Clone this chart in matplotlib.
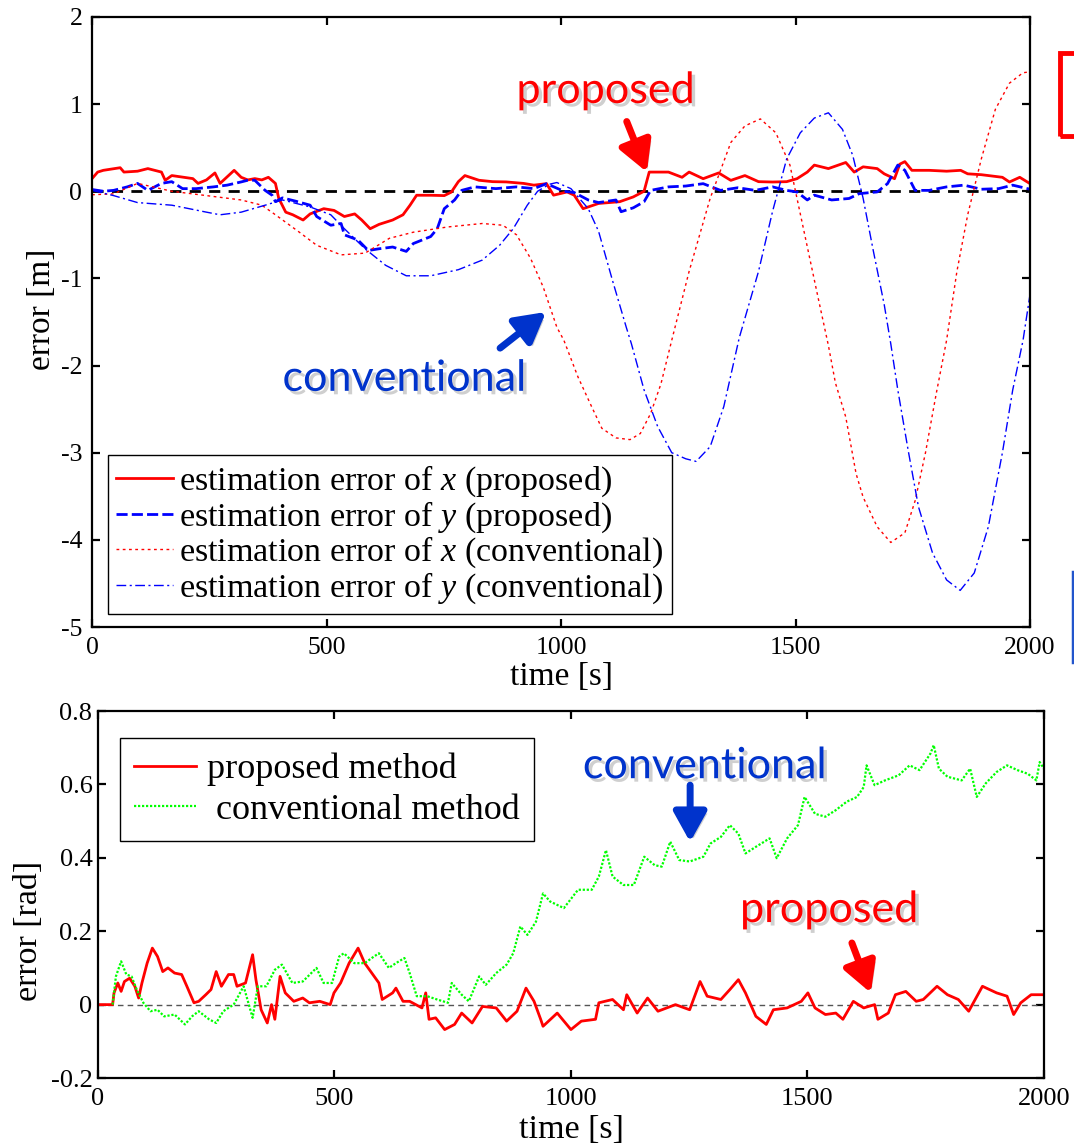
import numpy as np
import matplotlib
matplotlib.use('Agg')
import matplotlib.pyplot as plt
import matplotlib.patheffects as pe
from matplotlib.lines import Line2D
from matplotlib.patches import Rectangle

plt.rcParams['font.family'] = 'Liberation Serif'
plt.rcParams['mathtext.fontset'] = 'custom'
plt.rcParams['mathtext.rm'] = 'Liberation Serif'
plt.rcParams['mathtext.it'] = 'Liberation Serif:italic'
plt.rcParams['axes.unicode_minus'] = False

# position error, top panel: [time, error]
prop_x = np.array([
    [0, 0.145], [12, 0.22], [24, 0.24], [60, 0.27], [68, 0.22], [97, 0.23], [119, 0.26],
    [148, 0.22], [156, 0.126], [170, 0.18], [215, 0.145], [226, 0.09], [244, 0.13],
    [262, 0.21], [273, 0.09], [303, 0.24], [318, 0.16], [332, 0.13], [347, 0.145],
    [362, 0.13], [376, 0.16], [391, 0.09], [398, -0.08], [413, -0.24], [428, -0.27],
    [450, -0.33], [465, -0.26], [494, -0.20], [516, -0.22], [538, -0.29], [560, -0.26],
    [575, -0.33], [593, -0.43], [612, -0.38], [641, -0.33], [663, -0.27], [678, -0.16],
    [692, -0.046], [722, -0.046], [751, -0.05], [766, -0.01], [781, 0.11], [795, 0.18],
    [825, 0.126], [854, 0.11], [883, 0.107], [920, 0.09], [942, 0.07], [969, 0.087],
    [984, -0.045], [1013, -0.008], [1028, -0.045], [1047, -0.2], [1080, -0.14],
    [1125, -0.12], [1154, -0.065], [1177, 0.0], [1188, 0.22], [1229, 0.22], [1258, 0.16],
    [1273, 0.22], [1303, 0.144], [1336, 0.21], [1362, 0.125], [1392, 0.18], [1421, 0.11],
    [1451, 0.106], [1481, 0.11], [1503, 0.144], [1525, 0.22], [1540, 0.3], [1570, 0.26],
    [1607, 0.33], [1625, 0.22], [1644, 0.28], [1674, 0.26], [1689, 0.2], [1711, 0.144],
    [1722, 0.31], [1733, 0.34], [1748, 0.24], [1785, 0.24], [1822, 0.23], [1852, 0.24],
    [1867, 0.2], [1896, 0.19], [1941, 0.16], [1956, 0.106], [1978, 0.16], [2000, 0.087]])

prop_y = np.array([
    [0, 0.02], [24, 0.0], [46, 0.01], [75, 0.05], [97, 0.09], [119, 0.01], [148, 0.09],
    [170, 0.11], [193, 0.03], [222, 0.03], [259, 0.05], [288, 0.07], [318, 0.107],
    [332, 0.126], [347, 0.126], [369, 0.01], [384, -0.046], [391, -0.12], [406, -0.076],
    [435, -0.115], [465, -0.16], [479, -0.29], [509, -0.39], [531, -0.37], [538, -0.50],
    [567, -0.56], [589, -0.68], [612, -0.66], [641, -0.64], [670, -0.69], [685, -0.6],
    [722, -0.52], [736, -0.43], [751, -0.2], [773, -0.1], [788, 0.01], [816, 0.05],
    [861, 0.03], [905, 0.05], [942, 0.03], [969, 0.087], [1006, 0.0], [1028, -0.015],
    [1058, -0.1], [1080, -0.13], [1117, -0.1], [1128, -0.235], [1154, -0.19],
    [1177, -0.12], [1191, 0.01], [1229, 0.05], [1266, 0.06], [1303, 0.087], [1340, 0.01],
    [1377, 0.04], [1414, 0.01], [1451, 0.05], [1481, 0.01], [1503, -0.008], [1525, -0.1],
    [1540, -0.045], [1577, -0.1], [1614, -0.083], [1636, -0.027], [1674, -0.008],
    [1696, 0.087], [1718, 0.3], [1733, 0.24], [1755, 0.01], [1785, 0.01], [1822, 0.05],
    [1859, 0.07], [1896, 0.023], [1933, 0.03], [1963, 0.07], [2000, 0.023]])

conv_x = np.array([
    [0, -0.04], [46, -0.03], [97, 0.09], [170, 0.0], [244, -0.05], [318, -0.1],
    [362, -0.16], [391, -0.27], [442, -0.47], [479, -0.62], [531, -0.73], [582, -0.71],
    [634, -0.54], [685, -0.47], [758, -0.41], [832, -0.37], [876, -0.39], [905, -0.5],
    [935, -0.77], [962, -1.1], [991, -1.56], [1006, -1.71], [1036, -2.13], [1065, -2.47],
    [1087, -2.72], [1117, -2.83], [1147, -2.85], [1169, -2.78], [1191, -2.55],
    [1213, -2.21], [1236, -1.71], [1273, -0.92], [1318, -0.08], [1362, 0.56], [1392, 0.75],
    [1425, 0.83], [1458, 0.67], [1488, 0.3], [1518, -0.46], [1548, -1.22], [1570, -1.77],
    [1585, -2.2], [1607, -2.59], [1629, -3.24], [1644, -3.51], [1674, -3.85],
    [1703, -4.03], [1733, -3.92], [1755, -3.55], [1777, -3.0], [1800, -2.32],
    [1822, -1.71], [1844, -0.92], [1867, -0.27], [1896, 0.37], [1926, 0.94], [1956, 1.24],
    [1985, 1.36], [2000, 1.37]])

conv_y = np.array([
    [0, 0.01], [46, -0.05], [97, -0.13], [170, -0.16], [244, -0.24], [273, -0.27],
    [318, -0.24], [369, -0.16], [406, -0.1], [465, -0.18], [509, -0.27], [538, -0.43],
    [582, -0.66], [626, -0.85], [670, -0.97], [722, -0.97], [781, -0.9], [832, -0.79],
    [869, -0.62], [898, -0.43], [928, -0.16], [950, 0.0], [975, 0.08], [991, 0.1],
    [1021, 0.03], [1058, -0.2], [1080, -0.46], [1110, -1.03], [1139, -1.56],
    [1150, -1.75], [1177, -2.28], [1206, -2.7], [1236, -3.0], [1266, -3.07], [1288, -3.1],
    [1318, -2.93], [1347, -2.47], [1380, -1.68], [1421, -0.92],
    [1451, -0.23], [1481, 0.37], [1510, 0.67], [1540, 0.84], [1570, 0.9], [1600, 0.71],
    [1622, 0.41], [1644, -0.08], [1666, -0.69], [1689, -1.3], [1703, -1.75],
    [1718, -2.28], [1740, -2.97], [1762, -3.62], [1792, -4.15], [1822, -4.46],
    [1851, -4.58], [1881, -4.38], [1911, -3.85], [1941, -3.0], [1963, -2.28],
    [1985, -1.71], [2000, -1.18]])

# heading error, bottom panel: [time, error]
head_prop = np.array([
    [0, 0.0], [31, 0.0], [34, 0.032], [42, 0.059], [49, 0.036], [56, 0.063], [67, 0.072],
    [78, 0.05], [86, 0.018], [93, 0.059], [104, 0.113], [115, 0.154], [126, 0.131],
    [137, 0.09], [148, 0.1], [162, 0.086], [177, 0.082], [188, 0.05], [203, 0.005],
    [213, 0.009], [228, 0.027], [239, 0.041], [250, 0.09], [261, 0.05], [276, 0.082],
    [287, 0.082], [294, 0.05], [312, 0.059], [327, 0.136], [334, 0.068], [345, -0.014],
    [358, -0.05], [367, 0.0], [374, -0.04], [385, 0.077], [396, 0.032], [414, 0.009],
    [433, 0.018], [447, 0.005], [469, 0.009], [491, 0.0], [499, 0.032], [513, 0.059],
    [531, 0.113], [550, 0.154], [564, 0.113], [579, 0.086], [594, 0.059], [601, 0.014],
    [623, 0.032], [630, 0.045], [645, 0.009], [659, 0.009], [685, -0.009], [693, 0.032],
    [700, -0.04], [714, -0.036], [733, -0.068], [754, -0.054], [769, -0.023],
    [791, -0.05], [813, -0.005], [842, -0.009], [864, -0.045], [886, -0.018],
    [905, 0.045], [922, 0.009], [936, -0.04], [941, -0.059], [971, -0.023],
    [1000, -0.068], [1022, -0.045], [1052, -0.04], [1059, 0.005], [1088, 0.014],
    [1111, -0.014], [1118, 0.027], [1140, -0.023], [1162, 0.018], [1184, -0.018],
    [1221, 0.0], [1251, -0.014], [1273, 0.063], [1288, 0.023], [1317, 0.014],
    [1336, 0.041], [1354, 0.068], [1369, 0.032], [1391, -0.032], [1413, -0.054],
    [1428, -0.014], [1457, -0.009], [1487, 0.009], [1501, 0.032], [1516, -0.009],
    [1538, -0.027], [1560, -0.023], [1575, -0.04], [1597, 0.009], [1619, -0.009],
    [1642, 0.0], [1649, -0.04], [1671, -0.023], [1686, 0.027], [1708, 0.036],
    [1730, 0.009], [1745, 0.014], [1774, 0.05], [1796, 0.027], [1819, 0.014],
    [1841, -0.018], [1870, 0.05], [1900, 0.032], [1922, 0.023], [1936, -0.027],
    [1951, 0.005], [1973, 0.027], [2000, 0.027]])

head_conv = np.array([
    [31, 0.0], [38, 0.077], [49, 0.118], [60, 0.082], [71, 0.077], [82, 0.041],
    [96, 0.005], [111, -0.018], [126, -0.014], [140, -0.032], [162, -0.027],
    [184, -0.054], [199, -0.032], [213, -0.018], [235, -0.04], [250, -0.05],
    [265, -0.018], [287, 0.0], [308, 0.05], [327, -0.036], [338, 0.05], [356, 0.05],
    [374, 0.095], [389, 0.109], [411, 0.059], [433, 0.063], [462, 0.1], [477, 0.059],
    [495, 0.059], [510, 0.131], [520, 0.14], [542, 0.113], [564, 0.113], [579, 0.127],
    [594, 0.14], [615, 0.1], [630, 0.113], [648, 0.127], [659, 0.086], [674, 0.023],
    [696, 0.023], [717, 0.014], [740, 0.005], [748, 0.059], [769, 0.027], [784, 0.009],
    [806, 0.077], [820, 0.054], [842, 0.086], [864, 0.109], [878, 0.14], [893, 0.213],
    [908, 0.19], [926, 0.226], [941, 0.303], [956, 0.281], [985, 0.263], [1015, 0.313],
    [1044, 0.313], [1059, 0.349], [1074, 0.421], [1088, 0.349], [1111, 0.326],
    [1133, 0.326], [1155, 0.403], [1177, 0.38], [1192, 0.376], [1210, 0.444],
    [1229, 0.394], [1251, 0.39], [1280, 0.403], [1295, 0.439], [1317, 0.457],
    [1336, 0.489], [1354, 0.466], [1369, 0.412], [1391, 0.43], [1420, 0.453],
    [1435, 0.399], [1457, 0.453], [1480, 0.489], [1494, 0.566], [1516, 0.52],
    [1538, 0.512], [1560, 0.53], [1583, 0.553], [1605, 0.566], [1619, 0.593],
    [1625, 0.652], [1642, 0.598], [1664, 0.611], [1693, 0.625], [1716, 0.652],
    [1737, 0.639], [1760, 0.684], [1767, 0.707], [1778, 0.643], [1796, 0.621],
    [1826, 0.611], [1844, 0.643], [1858, 0.566], [1877, 0.603], [1900, 0.634],
    [1922, 0.652], [1944, 0.639], [1966, 0.629], [1984, 0.611], [1991, 0.661],
    [2000, 0.643]])

xticks = [0, 500, 1000, 1500, 2000]
yticks_top = [-5, -4, -3, -2, -1, 0, 1, 2]
yticks_bot = [-0.2, 0, 0.2, 0.4, 0.6, 0.8]
ytick_labels_bot = ['-0.2', '0', '0.2', '0.4', '0.6', '0.8']

RED = '#ff0000'
BLUE = '#0000ff'
ANN_BLUE = '#0033cc'
shadow = [pe.SimplePatchShadow(offset=(2.5, -2.5), shadow_rgbFace='#777777', alpha=0.35),
          pe.Normal()]
ann_font = dict(family='Lato', fontsize=31)
arrow_kw = dict(arrowstyle='-|>,head_length=0.9,head_width=0.5', lw=5,
                mutation_scale=20, shrinkA=0, shrinkB=0)


def style_axes(ax, ticksize, pad):
    for s in ax.spines.values():
        s.set_linewidth(1.6)
    ax.tick_params(direction='in', top=True, right=True, length=6, width=1.6,
                   labelsize=ticksize, pad=pad)


fig = plt.figure(figsize=(10.74, 11.45), dpi=100)

# top panel
ax1 = fig.add_axes([0.0857, 0.4524, 0.8734, 0.5328])
ax1.plot([0, 2000], [0, 0], color='k', lw=2, ls=(0, (4, 3)))
ax1.plot(prop_x[:, 0], prop_x[:, 1], color=RED, lw=2,
         label='estimation error of $x$ (proposed)')
ax1.plot(prop_y[:, 0], prop_y[:, 1], color=BLUE, lw=2, ls=(0, (4, 1.5)),
         label='estimation error of $y$ (proposed)')
ax1.plot(conv_x[:, 0], conv_x[:, 1], color=RED, lw=1, ls=(0, (2, 2.5)),
         label='estimation error of $x$ (conventional)')
ax1.plot(conv_y[:, 0], conv_y[:, 1], color=BLUE, lw=1, ls=(0, (7, 2.5, 1.5, 2.5)),
         label='estimation error of $y$ (conventional)')
ax1.set_xlim(0, 2000)
ax1.set_ylim(-5, 2)
ax1.set_xticks(xticks)
ax1.set_yticks(yticks_top)
style_axes(ax1, 18.5, 7)
ax1.set_xlabel('time [s]', fontsize=24, va='center')
ax1.xaxis.set_label_coords(0.5, -0.082)
ax1.set_ylabel('error [m]', fontsize=24, va='center')
ax1.yaxis.set_label_coords(-0.054, 0.52)
leg1 = ax1.legend(loc='lower left', bbox_to_anchor=(0.017, 0.021), borderaxespad=0,
                  fontsize=24.5, frameon=True, fancybox=False, framealpha=1,
                  edgecolor='k', labelspacing=0.0, handlelength=1.65,
                  handletextpad=0.2, borderpad=0.25)
leg1.get_frame().set_linewidth(1.0)

ax1.text(1094, 1.013, 'proposed', color=RED, ha='center', va='baseline',
         path_effects=shadow, **ann_font)
ax1.annotate('', xy=(1183, 0.22), xytext=(1140, 0.8),
             arrowprops=dict(color=RED, path_effects=shadow, **arrow_kw))
ax1.text(665, -2.29, 'conventional', color=ANN_BLUE, ha='center', va='baseline',
         path_effects=shadow, **ann_font)
ax1.annotate('', xy=(968, -1.385), xytext=(870, -1.8),
             arrowprops=dict(color=ANN_BLUE, path_effects=shadow, **arrow_kw))

# bottom panel
ax2 = fig.add_axes([0.0912, 0.0585, 0.8808, 0.3205])
ax2.plot([0, 2000], [0, 0], color='#555555', lw=1, ls=(0, (4, 3)))
ax2.plot(head_prop[:, 0], head_prop[:, 1], color=RED, lw=2, label='proposed method')
ax2.plot(head_conv[:, 0], head_conv[:, 1], color='#00ff00', lw=1.6, ls=(0, (1, 0.8)),
         label=' conventional method')
ax2.set_xlim(0, 2000)
ax2.set_ylim(-0.2, 0.8)
ax2.set_xticks(xticks)
ax2.set_yticks(yticks_bot)
ax2.set_yticklabels(ytick_labels_bot)
style_axes(ax2, 19, 4)
ax2.tick_params(axis='x', pad=7)
ax2.set_xlabel('time [s]', fontsize=24.5, va='center')
ax2.xaxis.set_label_coords(0.5, -0.142)
ax2.set_ylabel('error [rad]', fontsize=24.5, va='center')
ax2.yaxis.set_label_coords(-0.073, 0.40)
leg2 = ax2.legend(loc='upper left', bbox_to_anchor=(0.0233, 0.926), borderaxespad=0,
                  fontsize=26, frameon=True, fancybox=False, framealpha=1,
                  edgecolor='k', labelspacing=0.2, handlelength=1.7,
                  handletextpad=0.3, borderpad=0.4)
leg2.get_frame().set_linewidth(1.0)

ax2.text(1282, 0.617, 'conventional', color=ANN_BLUE, ha='center', va='baseline',
         path_effects=shadow, **ann_font)
ax2.annotate('', xy=(1252, 0.443), xytext=(1252, 0.598),
             arrowprops=dict(color=ANN_BLUE, path_effects=shadow, **arrow_kw))
ax2.text(1545, 0.225, 'proposed', color=RED, ha='center', va='baseline',
         path_effects=shadow, **ann_font)
ax2.annotate('', xy=(1634, 0.032), xytext=(1594, 0.168),
             arrowprops=dict(color=RED, path_effects=shadow, **arrow_kw))

# slide pieces cut off at the right edge
fig.patches.append(Rectangle((1060 / 1074, 1 - 136 / 1145), 40 / 1074, 83 / 1145,
                             transform=fig.transFigure, fill=False, edgecolor=RED,
                             lw=3.5, clip_on=False))
fig.lines.append(Line2D([1073 / 1074, 1073 / 1074], [1 - 572 / 1145, 1 - 662 / 1145],
                        transform=fig.transFigure, color='#2255cc', lw=2.5))

fig.savefig('out.png', dpi=100)
